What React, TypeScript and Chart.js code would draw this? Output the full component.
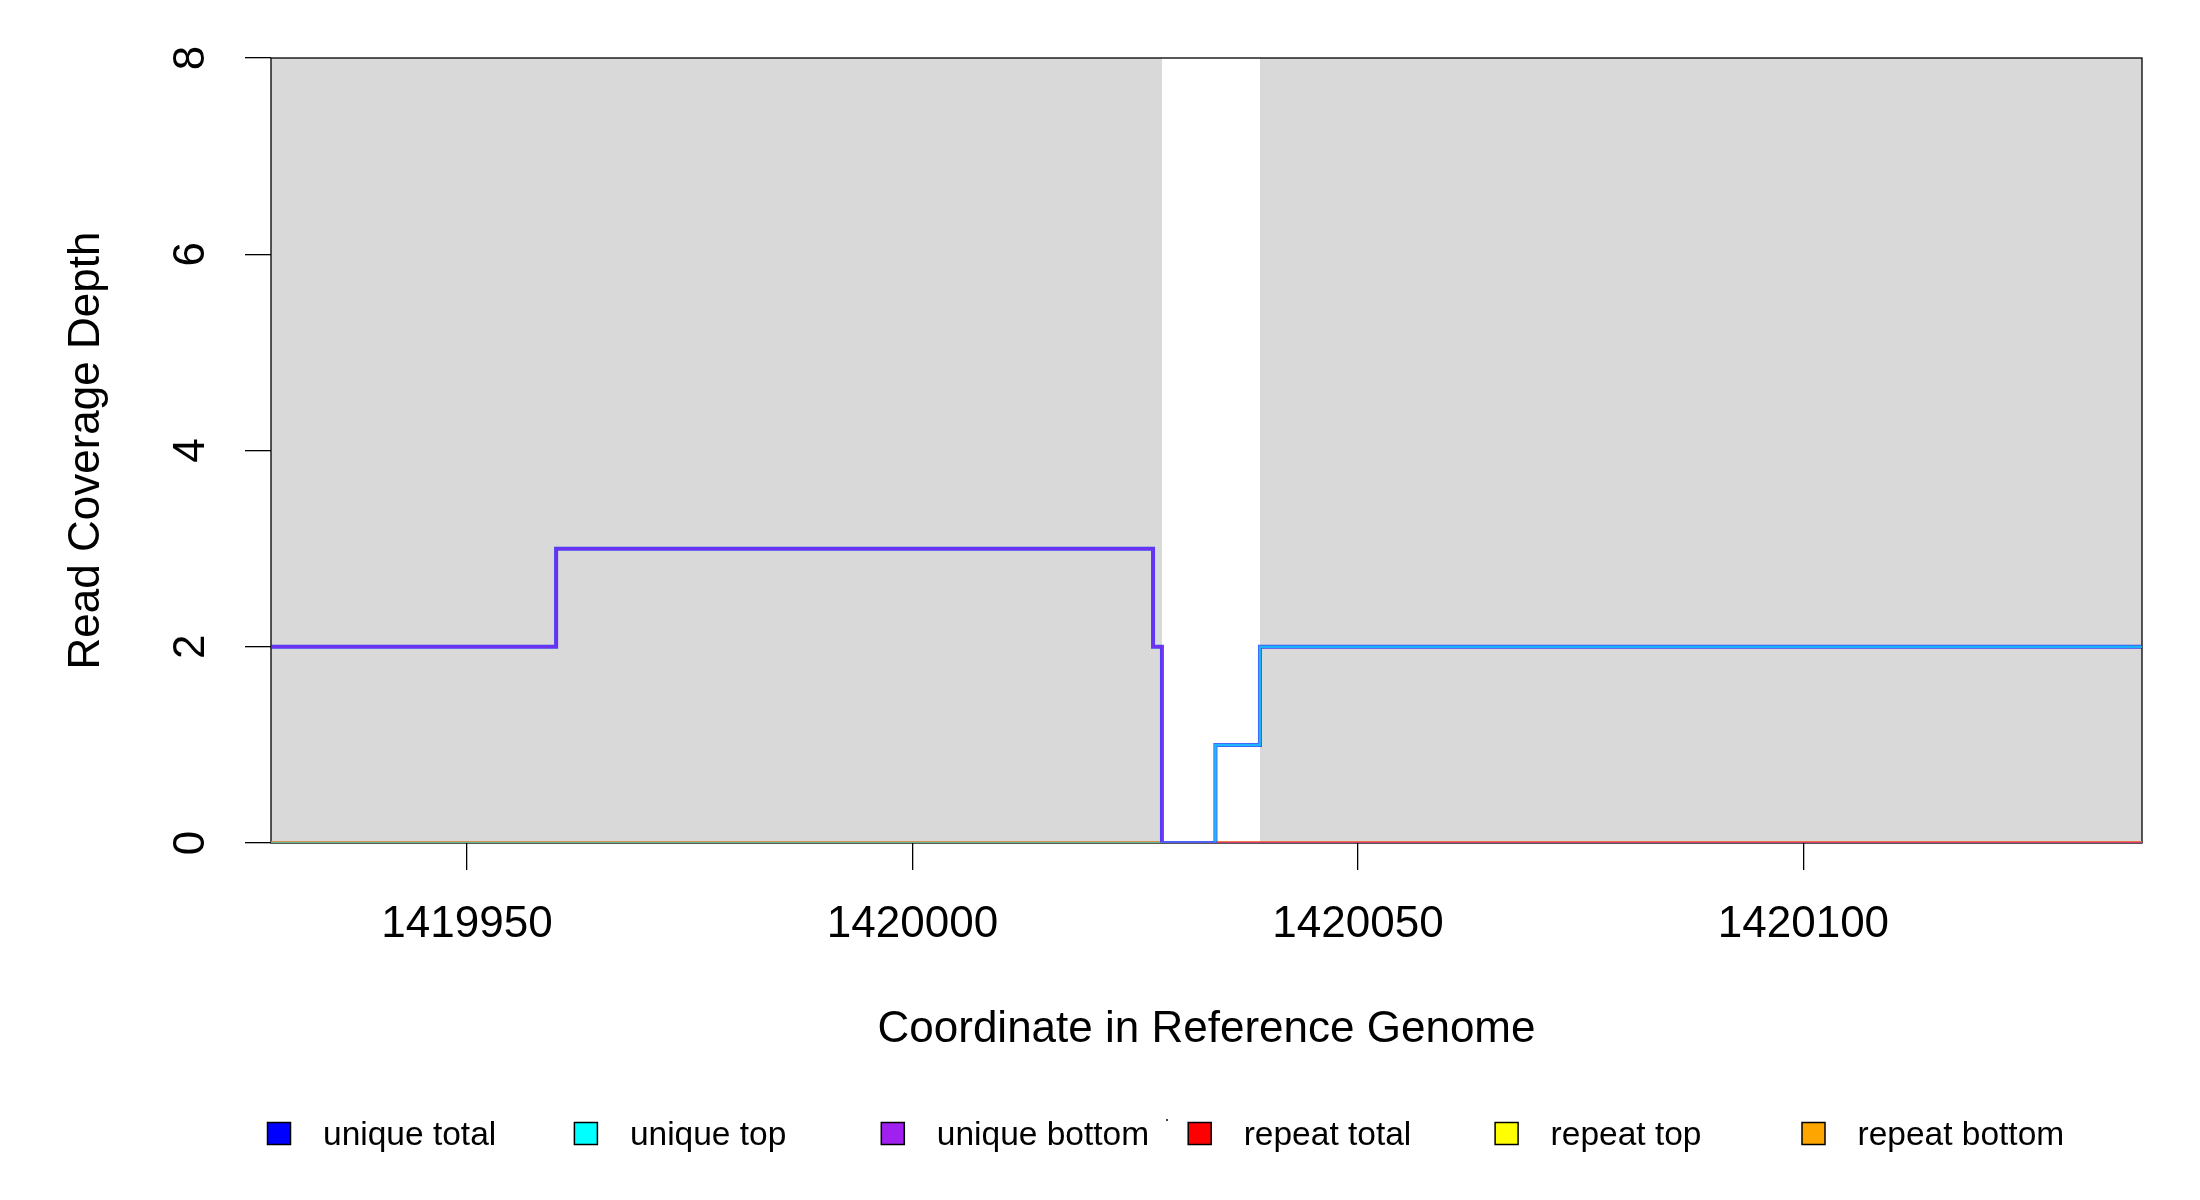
import React, { useEffect, useRef } from "react";
import { Chart, registerables } from "chart.js";

Chart.register(...registerables);

// ---- data ----
const xMin = 1419928;
const xMax = 1420138;
const yMin = 0;
const yMax = 8;
const xTicks = [1419950, 1420000, 1420050, 1420100];
const yTicks = [0, 2, 4, 6, 8];

const uniqueTotalPos = [1419928, 1419960, 1420027, 1420028, 1420034, 1420039, 1420138];
const uniqueTotalVal = [2, 3, 2, 0, 1, 2, 2];
const uniqueTopPos = [1419928, 1420034, 1420039, 1420138];
const uniqueTopVal = [0, 1, 2, 2];
const uniqueBottomPos = [1419928, 1419960, 1420027, 1420028, 1420138];
const uniqueBottomVal = [2, 3, 2, 0, 0];
const repeatPos = [1419928, 1420028, 1420031, 1420034, 1420138];
const repeatTotalVal = [0, 0, null, 0, 0];
const repeatTopVal = [0, 0, null, 0, 0];
const repeatBottomVal = [0, 0, null, 0, 0];

const shadeStart = [1419928, 1420039];
const shadeEnd = [1420028, 1420138];

const seriesLabels = ["unique total", "unique top", "unique bottom", "repeat total", "repeat top", "repeat bottom"];
const legendColors = ["#0000FF", "#00FFFF", "#A020F0", "#FF0000", "#FFFF00", "#FFA500"];
const lineColors = [
  "rgba(0,0,255,0.7)",
  "rgba(0,255,255,0.6)",
  "rgba(160,32,240,0.5)",
  "rgb(255,0,0)",
  "rgb(255,255,0)",
  "rgba(255,165,0,0.5)",
];
const xTitle = "Coordinate in Reference Genome";
const yTitle = "Read Coverage Depth";

const FONT = "'Liberation Sans', Arial, sans-serif";

const toPts = (xs: number[], ys: (number | null)[]) => xs.map((x, i) => ({ x, y: ys[i] }));

const decorPlugin = {
  id: "rDecor",
  beforeDatasetsDraw(chart: any) {
    const { ctx, chartArea: a, scales } = chart;
    const x = scales.x;
    ctx.save();
    ctx.fillStyle = "#d9d9d9";
    for (let i = 0; i < shadeStart.length; i++) {
      const x0 = x.getPixelForValue(shadeStart[i]);
      const x1 = x.getPixelForValue(shadeEnd[i]);
      ctx.fillRect(x0, a.top, x1 - x0, a.bottom - a.top);
    }
    ctx.strokeStyle = "#000";
    ctx.lineWidth = 1.3;
    ctx.strokeRect(a.left, a.top, a.right - a.left, a.bottom - a.top);
    ctx.restore();
  },
  afterDraw(chart: any) {
    const { ctx } = chart;
    const left = 267.5;
    const step = 306.9;
    const boxW = 23;
    const boxH = 22;
    const cy = 1133.5;
    ctx.save();
    ctx.font = `33.5px ${FONT}`;
    ctx.textBaseline = "alphabetic";
    ctx.textAlign = "left";
    chart.data.datasets.forEach((ds: any, i: number) => {
      const bx = left + i * step;
      ctx.fillStyle = legendColors[i];
      ctx.fillRect(bx, cy - boxH / 2, boxW, boxH);
      ctx.strokeStyle = "#000";
      ctx.lineWidth = 1.5;
      ctx.strokeRect(bx, cy - boxH / 2, boxW, boxH);
      ctx.fillStyle = "#000";
      ctx.fillText(ds.label, bx + 55.5, 1144.5);
    });
    ctx.fillStyle = "#444";
    ctx.fillRect(1166, 1119, 2, 2);
    ctx.restore();
  },
};

export default function App() {
  const ref = useRef<HTMLCanvasElement | null>(null);

  useEffect(() => {
    if (!ref.current) return;
    const mk = (i: number, data: any[], order: number, width: number) => ({
      label: seriesLabels[i],
      data,
      borderColor: lineColors[i],
      backgroundColor: legendColors[i],
      borderWidth: width,
      pointRadius: 0,
      stepped: true,
      tension: 0,
      fill: false,
      order,
      spanGaps: false,
    });
    const chart = new Chart(ref.current, {
      type: "line",
      data: {
        datasets: [
          mk(0, toPts(uniqueTotalPos, uniqueTotalVal), 2, 4),
          mk(1, toPts(uniqueTopPos, uniqueTopVal), 1, 2.5),
          mk(2, toPts(uniqueBottomPos, uniqueBottomVal), 0, 2.5),
          mk(3, toPts(repeatPos, repeatTotalVal), 4, 3),
          mk(4, toPts(repeatPos, repeatTopVal), 5, 3),
          mk(5, toPts(repeatPos, repeatBottomVal), 3, 3),
        ],
      },
      options: {
        responsive: false,
        devicePixelRatio: 1,
        animation: false,
        events: [],
        layout: { padding: { left: 0, top: 58, right: 58, bottom: 0 } },
        plugins: { legend: { display: false }, tooltip: { enabled: false }, title: { display: false } },
        scales: {
          x: {
            type: "linear",
            position: "bottom",
            min: xMin,
            max: xMax,
            afterBuildTicks: (s: any) => {
              s.ticks = xTicks.map((v) => ({ value: v }));
            },
            afterFit: (s: any) => {
              s.height = 357;
            },
            grid: { drawOnChartArea: false, drawTicks: true, tickLength: 27, color: "#000", lineWidth: 1.3 },
            border: { display: false },
            ticks: {
              autoSkip: false,
              maxRotation: 0,
              minRotation: 0,
              padding: 28.4,
              color: "#000",
              font: { family: FONT, size: 44 },
              callback: (v: any) => String(v),
            },
            title: {
              display: true,
              text: xTitle,
              color: "#000",
              font: { family: FONT, size: 44 },
              padding: { top: 0, bottom: 143.6 },
            },
          },
          y: {
            type: "linear",
            position: "left",
            min: yMin,
            max: yMax,
            afterBuildTicks: (s: any) => {
              s.ticks = yTicks.map((v) => ({ value: v }));
            },
            afterFit: (s: any) => {
              s.width = 271;
            },
            grid: { drawOnChartArea: false, drawTicks: true, tickLength: 26, color: "#000", lineWidth: 1.3 },
            border: { display: false },
            ticks: {
              autoSkip: false,
              minRotation: 90,
              maxRotation: 90,
              crossAlign: "center",
              padding: 41,
              color: "#000",
              font: { family: FONT, size: 44, lineHeight: 0.5 },
              callback: (v: any) => String(v),
            },
            title: {
              display: true,
              text: yTitle,
              color: "#000",
              font: { family: FONT, size: 44 },
              padding: { top: 60.6, bottom: 0 },
            },
          },
        },
      } as any,
      plugins: [decorPlugin],
    });
    return () => chart.destroy();
  }, []);

  return (
    <div style={{ position: "fixed", left: 0, top: 0, width: 2200, height: 1200, background: "#fff" }}>
      <canvas ref={ref} width={2200} height={1200} style={{ display: "block" }} />
    </div>
  );
}
